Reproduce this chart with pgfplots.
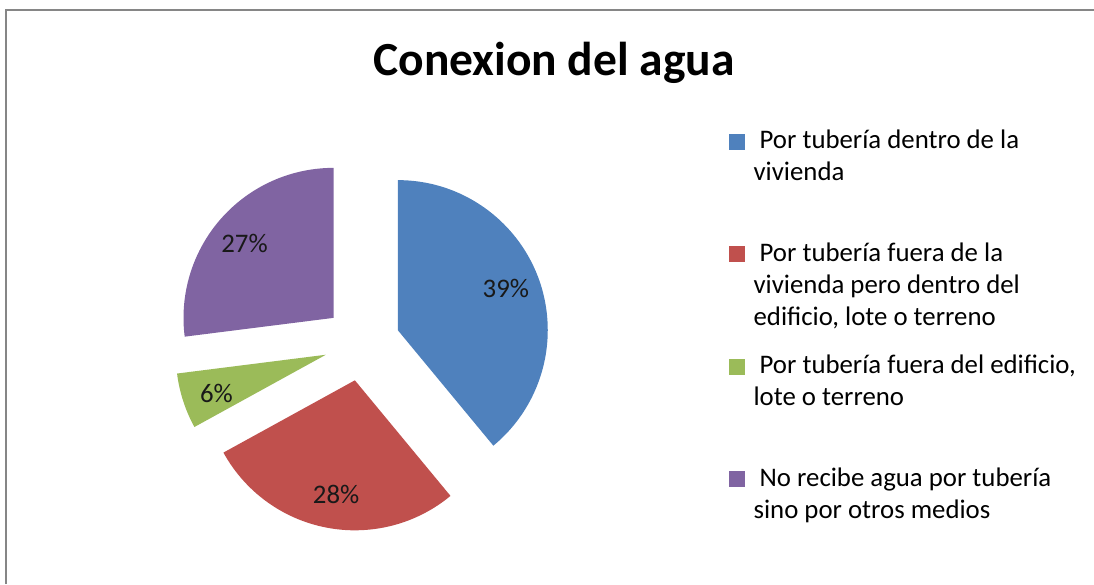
\documentclass[border=0pt]{standalone}
\usepackage{pgfplots}
\usepackage{pgfplotstable}
\pgfplotsset{compat=1.18}
\usepackage{fontspec}
\setmainfont{Carlito}
\definecolor{pblue}{RGB}{79,129,189}
\definecolor{pred}{RGB}{192,80,77}
\definecolor{pgreen}{RGB}{155,187,89}
\definecolor{ppurple}{RGB}{128,100,162}
\definecolor{framegray}{RGB}{134,134,134}

% share of each slice, clockwise from 12 o'clock
\pgfplotstableread{
pct
39
28
6
27
}\piedata

\begin{document}
\begin{tikzpicture}
\begin{axis}[
  scale only axis, width=1094pt, height=584pt,
  xmin=0, xmax=1094, ymin=0, ymax=584,
  hide axis, clip=false,
  title={Conexion del agua},
  title style={at={(0.5064,0.860)}, anchor=base, font=\bfseries\fontsize{47.5}{56}\selectfont},
  legend style={at={(axis cs:726,458)}, anchor=north west, draw=none, fill=none,
    row sep=0pt, nodes={text depth=}, cells={anchor=base west},
    font=\fontsize{26.8}{32}\selectfont},
  legend image code/.code={\fill[#1] (0pt,0pt) rectangle (15pt,15pt); \path (22pt,0pt);},
]
% chart frame (cut at right and bottom)
\draw[framegray, line width=2pt] (axis cs:6,0) -- (axis cs:6,574) -- (axis cs:1094,574);

% exploded pie: centre (362,241), radius 150, explode 38
\pgfplotsextra{
  \gdef\astart{90}
  \foreach \i/\col in {0/pblue,1/pred,2/pgreen,3/ppurple}{
    \pgfplotstablegetelem{\i}{pct}\of\piedata
    \let\p\pgfplotsretval
    \pgfmathsetmacro\aend{\astart-3.6*\p}
    \pgfmathsetmacro\amid{(\astart+\aend)/2}
    \pgfmathsetmacro\vx{362+38*cos(\amid)}
    \pgfmathsetmacro\vy{241+38*sin(\amid)}
    \fill[\col] (axis cs:\vx,\vy) -- ++(\astart:150pt)
      arc[start angle=\astart, end angle=\aend, radius=150pt] -- cycle;
    \path (axis cs:\vx,\vy) ++(\amid+1.5:116pt)
      node[font=\fontsize{26.8}{32}\selectfont, text=black!90] {\p\%};
    \xdef\astart{\aend}
  }
}

\addlegendimage{pblue}
\addlegendentry{\parbox[t][108.5pt][t]{330pt}{\ Por tubería dentro de la\\vivienda}}
\addlegendimage{pred}
\addlegendentry{\parbox[t][108.5pt][t]{330pt}{\ Por tubería fuera de la\\vivienda pero dentro del\\edificio, lote o terreno}}
\addlegendimage{pgreen}
\addlegendentry{\parbox[t][108.5pt][t]{330pt}{\ Por tubería fuera del edificio,\\lote o terreno}}
\addlegendimage{ppurple}
\addlegendentry{\parbox[t][108.5pt][t]{330pt}{\ No recibe agua por tubería\\sino por otros medios}}
\end{axis}
\pgfresetboundingbox
\path (0,0) rectangle (1094pt,584pt);
\end{tikzpicture}
\end{document}
